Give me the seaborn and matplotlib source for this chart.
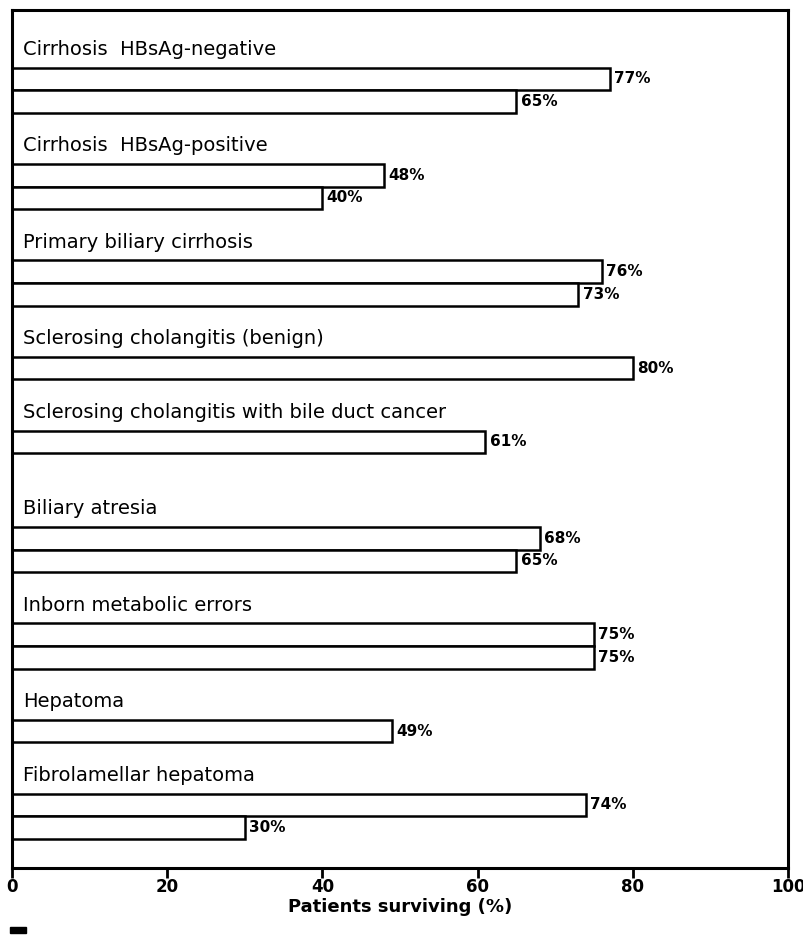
import numpy as np
import pandas as pd
import matplotlib
matplotlib.use('Agg')
import matplotlib.pyplot as plt
from matplotlib.patches import Rectangle
import seaborn as sns

# data
groups = ['Cirrhosis  HBsAg-negative', 'Cirrhosis  HBsAg-positive',
          'Primary biliary cirrhosis', 'Sclerosing cholangitis (benign)',
          'Sclerosing cholangitis with bile duct cancer', 'Biliary atresia',
          'Inborn metabolic errors', 'Hepatoma', 'Fibrolamellar hepatoma']
first_bar = [77, 48, 76, 80, 61, 68, 75, 49, 74]
second_bar = [65, 40, 73, np.nan, np.nan, 65, 75, np.nan, 30]
ticks = [0, 20, 40, 60, 80, 100]

# layout: bar slots per group
n_slots = [2, 2, 2, 1, 2, 2, 2, 1, 2]

sns.set_style('white')
plt.rcParams['font.family'] = ['DejaVu Sans']
plt.rcParams['text.color'] = 'black'

label_y = []
rows = []
y = 1.75
for g, n, v1, v2 in zip(groups, n_slots, first_bar, second_bar):
    label_y.append(y)
    for k, v in enumerate([v1, v2][:n]):
        if not np.isnan(v):
            rows.append({'group': g, 'pos': y + 1.3 + k, 'value': v})
    y += n + 2.27
df = pd.DataFrame(rows)

fig = plt.figure(figsize=(8.04, 9.42), dpi=100)
ax = fig.add_axes([0.0149, 0.0786, 0.9652, 0.9108])

sns.barplot(data=df, x='value', y='pos', orient='h', native_scale=True,
            width=1.0, color='white', edgecolor='black', linewidth=1.8,
            errorbar=None, ax=ax)

ax.bar_label(ax.containers[0], labels=[f'{v:g}%' for v in df['value']],
             padding=3, fontsize=11, fontweight='bold', color='black')

for g, ly in zip(groups, label_y):
    ax.text(1.4, ly, g, fontsize=14, va='center', ha='left', color='black')

ax.set_xlim(0, 100)
ax.set_ylim(38.0, 0)
ax.set_xticks(ticks)
ax.set_xticklabels([str(t) for t in ticks], fontsize=12, fontweight='bold',
                   color='black')
ax.set_yticks([])
ax.set_ylabel('')
ax.set_xlabel('Patients surviving (%)', fontsize=13, fontweight='bold',
              labelpad=2, color='black')
ax.tick_params(axis='x', direction='out', length=7, width=2, bottom=True,
               pad=0, colors='black')
for s in ax.spines.values():
    s.set_visible(True)
    s.set_color('black')
    s.set_linewidth(2.2)

fig.add_artist(Rectangle((0.012, 0.010), 0.02, 0.006, transform=fig.transFigure,
                         color='black'))

fig.savefig('out.png', dpi=100)
